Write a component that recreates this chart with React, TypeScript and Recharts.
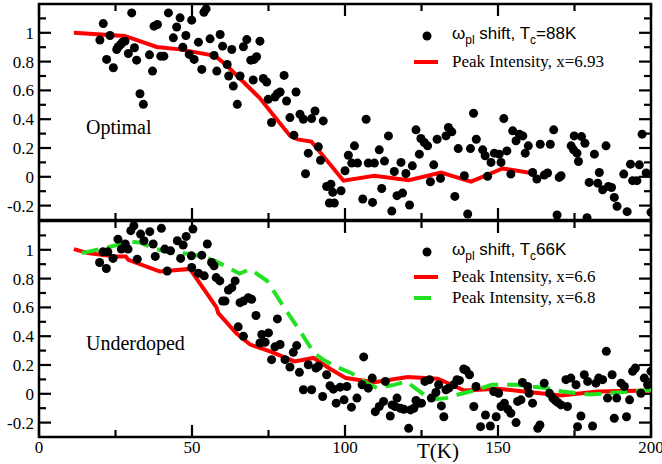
import { ComposedChart, Scatter, Line, XAxis, YAxis, Legend, Customized, ReferenceArea, ReferenceLine } from 'recharts'

const SERIF = '"Liberation Serif", "DejaVu Serif", serif'
const SANS = '"Liberation Sans", Arial, sans-serif'

const xMajor = [0, 50, 100, 150, 200]
const xMinor = [25, 75, 125, 175]
const yMajor = [-0.2, 0, 0.2, 0.4, 0.6, 0.8, 1]
const yMinor = [-0.1, 0.1, 0.3, 0.5, 0.7, 0.9, 1.1]

const optimalShift: [number, number][] = [
  [19.9, 0.95], [21.0, 1.064], [22.1, 0.815], [23.2, 0.981], [24.3, 0.757], [25.4, 0.884], [25.9, 0.903],
  [26.7, 0.919], [27.3, 0.935], [28.1, 0.942], [29.2, 0.856], [30.3, 1.138], [31.2, 0.896], [31.9, 0.81],
  [33.0, 0.577], [34.1, 0.503], [36.1, 0.847], [37.1, 0.734], [37.6, 1.046], [38.7, 1.058], [39.8, 0.838],
  [40.8, 0.838], [42.3, 1.138], [43.9, 0.965], [45.0, 1.04], [46.1, 1.104], [47.0, 0.9], [48.0, 0.981],
  [49.1, 0.85], [49.9, 1.088], [50.7, 0.815], [52.1, 0.935], [53.2, 0.746], [53.9, 1.143], [54.6, 1.166],
  [55.9, 0.958], [57.2, 0.843], [58.1, 0.734], [59.2, 0.988], [60.0, 0.907], [61.5, 0.78], [62.0, 0.7],
  [63.0, 0.884], [63.5, 0.63], [64.8, 0.503], [65.7, 0.7], [66.8, 0.903], [67.9, 0.953], [69.2, 0.81],
  [70.0, 0.672], [70.3, 0.815], [71.1, 0.834], [72.2, 0.942], [73.3, 0.683], [74.4, 0.658], [74.9, 0.538],
  [76.0, 0.377], [77.1, 0.554], [77.9, 0.577], [78.8, 0.589], [80.1, 0.704], [80.9, 0.526], [82.0, 0.411],
  [83.3, 0.289], [84.0, 0.589], [85.3, 0.434], [86.4, 0.4], [87.1, 0.021], [88.0, 0.164], [89.1, 0.404],
  [90.2, 0.457], [91.3, 0.208], [92.0, 0.115], [92.9, 0.388], [94.0, -0.067], [94.9, -0.182],
  [95.4, -0.051], [96.0, -0.108], [96.5, -0.182], [98.7, -0.097], [100.0, 0.042], [101.1, 0.15],
  [102.2, 0.095], [103.1, 0.215], [104.1, 0.095], [105.8, -0.154], [106.9, 0.4], [107.6, 0.095],
  [109.0, -0.178], [109.6, 0.095], [111.2, 0.187], [112.0, -0.081], [112.9, 0.109], [114.2, 0.284],
  [115.3, -0.238], [116.1, 0.037], [117.0, -0.131], [118.3, 0.1], [118.8, -0.113], [119.9, 0.023],
  [121.1, -0.196], [122.0, 0.076], [123.2, 0.326], [124.3, 0.157], [124.8, 0.266], [125.9, 0.238],
  [127.0, 0.215], [127.9, -0.034], [129.0, 0.083], [130.1, 0.261], [131.2, -0.011], [133.0, 0.284],
  [133.8, 0.342], [134.9, 0.312], [135.9, -0.136], [137.0, 0.196], [139.0, 0.007], [140.1, -0.258],
  [141.0, 0.196], [142.0, 0.441], [142.9, 0.261], [145.0, 0.187], [145.8, 0.146], [146.6, 0.003],
  [147.7, 0.1], [148.8, 0.164], [150.4, 0.157], [151.0, 0.1], [151.9, 0.404], [152.9, 0.18],
  [154.2, 0.019], [154.8, 0.319], [155.9, 0.25], [157.0, 0.296], [158.1, 0.284], [158.9, 0.164],
  [159.9, 0.215], [161.3, 0.03], [162.7, -0.016], [163.8, 0.226], [165.1, 0.012], [166.2, 0.026],
  [167.1, 0.226], [168.2, 0.326], [169.3, -0.265], [170.0, -0.004], [170.6, 0.007], [173.9, 0.215],
  [174.7, 0.187], [174.9, 0.284], [175.8, 0.164], [176.3, 0.106], [177.3, 0.279], [178.4, 0.233],
  [179.1, -0.284], [179.8, -0.039], [181.5, 0.157], [182.6, -0.044], [183.1, 0.03], [184.2, -0.09],
  [185.3, 0.215], [186.1, -0.067], [187.1, -0.074], [188.0, -0.143], [188.9, -0.205], [191.1, 0.019],
  [192.2, -0.242], [193.3, 0.088], [194.0, -0.027], [195.4, -0.027], [196.2, 0.083], [197.1, 0.296],
  [198.4, 0.026], [200.0, -0.247],
]

const optimalPeak: [number, number][] = [
  [11.4, 1.0], [28, 0.978], [38.5, 0.902], [46, 0.885], [57.5, 0.84], [61, 0.78], [72, 0.55], [82, 0.285],
  [84.5, 0.26], [89, 0.245], [99.5, -0.027], [109.6, 0.007], [120.8, -0.023], [131.4, 0.03],
  [141.2, -0.034], [151.5, 0.058], [161.3, 0.025],
]

const underShift: [number, number][] = [
  [19.8, 0.912], [20.9, 0.986], [22.0, 0.87], [22.5, 0.986], [24.2, 0.94], [25.8, 1.074], [26.9, 1.005],
  [28.2, 1.04], [29.1, 1.005], [30.0, 1.133], [31.0, 1.167], [32.1, 0.935], [33.2, 1.109], [34.3, 1.063],
  [36.2, 1.126], [37.3, 1.04], [38.0, 0.954], [40.0, 1.149], [41.1, 1.005], [41.9, 0.853], [43.0, 0.993],
  [45.2, 1.063], [46.3, 0.94], [47.1, 1.033], [48.1, 1.093], [49.8, 0.958], [50.3, 1.144],
  [49.9, 0.877], [52.1, 0.837], [53.2, 0.963], [54.0, 0.819], [55.0, 1.04], [56.4, 0.912], [57.2, 0.889],
  [57.9, 0.807], [59.1, 0.784], [60.0, 0.644], [60.8, 0.644], [61.9, 0.721], [63.0, 0.737], [64.1, 0.784],
  [65.1, 0.465], [65.7, 0.633], [66.8, 0.644], [66.8, 0.4], [68.4, 0.667], [69.5, 0.656], [70.9, 0.544],
  [72.2, 0.353], [72.8, 0.412], [73.9, 0.358], [75.0, 0.423], [76.0, 0.237], [77.1, 0.326], [77.9, 0.52],
  [78.8, 0.342], [80.4, 0.237], [82.0, 0.186], [83.1, 0.288], [84.2, 0.335], [85.1, 0.149], [86.4, 0.028],
  [88.0, 0.202], [89.1, 0.028], [90.5, 0.179], [91.3, 0.191], [92.7, -0.019], [94.0, 0.132], [95.1, 0.056],
  [96.2, 0.032], [97.1, -0.065], [98.4, 0.046], [99.7, -0.042],
  [100.6, 0.051], [102.1, -0.093], [103.9, -0.03], [105.6, 0.063], [106.1, 0.256], [107.6, 0.039],
  [108.9, 0.109], [109.9, -0.124], [111.2, -0.088], [112.6, -0.053], [113.2, 0.086], [114.8, -0.154],
  [115.4, -0.077], [116.4, -0.088], [117.0, -0.03], [118.1, -0.1], [119.2, -0.107], [120.8, -0.24],
  [121.4, -0.112], [122.5, -0.1], [123.2, -0.046], [124.1, -0.065], [125.0, -0.065], [126.1, 0.086],
  [127.6, 0.098], [128.2, -0.03], [129.7, 0.009], [130.6, 0.063], [131.5, -0.084], [132.3, -0.159],
  [133.0, 0.028], [133.9, 0.039], [135.5, 0.063], [136.6, 0.098], [137.4, 0.093], [138.8, 0.172],
  [139.6, 0.163], [140.7, 0.132], [142.1, -0.088], [142.8, 0.051], [144.3, -0.228], [145.9, -0.147],
  [147.5, -0.224], [148.6, 0.016], [149.4, -0.159], [150.2, 0.004],
  [151.0, -0.088], [152.1, -0.065], [153.2, -0.107], [154.2, -0.135], [155.9, -0.2], [156.4, -0.053],
  [157.5, -0.042], [158.0, 0.079], [159.7, 0.051], [160.2, 0.004], [161.3, -0.065], [163.0, -0.24],
  [163.7, -0.217], [165.1, 0.074], [166.8, 0.004], [167.9, -0.03], [168.7, -0.046], [169.5, -0.06],
  [170.6, -0.077], [172.2, 0.098], [172.7, -0.088], [173.8, 0.109], [175.5, 0.063], [176.0, -0.228],
  [177.1, -0.154], [178.2, 0.132], [179.3, 0.086], [180.9, -0.224], [182.0, 0.074], [182.9, 0.109],
  [184.2, 0.098], [185.4, 0.295], [185.8, -0.03], [187.3, 0.132], [188.0, -0.17], [188.8, -0.03],
  [190.2, 0.074], [191.3, 0.051], [192.0, -0.159], [193.0, -0.042], [194.0, 0.156], [194.9, 0.179],
  [196.7, 0.004], [197.8, 0.109], [198.9, 0.063], [200.0, 0.156],
]

const underPeak66: [number, number][] = [
  [11.4, 1.005], [16, 0.977], [25, 0.953], [28.4, 0.953], [29.2, 0.93], [39.5, 0.849], [49.3, 0.867],
  [58, 0.6], [58.6, 0.56], [64.5, 0.42], [69, 0.342], [75.5, 0.295], [83.5, 0.225], [89.7, 0.249],
  [95.1, 0.174], [100.3, 0.109], [109.6, 0.081], [120.5, 0.116], [130.3, 0.105], [139, 0.023],
  [149.9, 0.035], [160.8, 0.011], [170.6, -0.012], [182.6, 0.016], [200, 0.023],
]

const underPeak68: [number, number][] = [
  [14, 0.977], [23.6, 1.023], [30, 1.058], [33, 1.05], [38.3, 1.005], [42, 0.986], [48, 0.975],
  [51.5, 0.962], [57.5, 0.923], [65.5, 0.835], [69, 0.865], [74.5, 0.785], [79.5, 0.62], [85, 0.445],
  [90, 0.28], [93, 0.235], [98, 0.18], [102, 0.145], [107, 0.075], [110.5, 0.04], [116, 0.062],
  [120, 0.085], [128, -0.04], [133, -0.03], [137, -0.005], [143, 0.028], [148, 0.063], [156, 0.063],
  [161, 0.05], [166, 0.04], [171, 0.016], [180, -0.005], [190, 0.01], [200, 0.028],
]

const X_DOMAIN: [number, number] = [0, 200]
const Y_DOMAIN: [number, number] = [-0.3, 1.2]
// tick lengths in data units (plot is 612 x 216 px): 12 px major, 7 px minor
const TX = { major: 12 * 200 / 612, minor: 7 * 200 / 612 }
const TY = { major: 12 * 1.5 / 216, minor: 7 * 1.5 / 216 }

const toRows = (pts: [number, number][]) => pts.map(([t, v]) => ({ t, v }))

const fmtY = (v: number) => (Math.abs(v) < 1e-9 ? '0' : String(v))

const LeftLabel = (p: any) => (
  <text x={p.x} y={p.y} dy="0.35em" textAnchor="end" fontFamily={SERIF} fontSize={17} fill="#000">
    {fmtY(p.payload.value)}
  </text>
)

const BottomLabel = (p: any) => (
  <text x={p.x} y={p.y + 16} textAnchor="middle" fontFamily={SERIF} fontSize={17} fill="#000">
    {p.payload.value}
  </text>
)

const Dot = (p: any) => <circle cx={p.cx} cy={p.cy} r={4.5} fill="#000" />

const OmegaLabel = ({ y, tc }: { y: number; tc: string }) => (
  <text x={47} y={y} fontFamily={SANS} fontSize={17} fill="#000">
    ω<tspan dy={5} fontSize={12}>pl</tspan>
    <tspan dy={-5}> shift, T</tspan>
    <tspan dy={5} fontSize={12}>c</tspan>
    <tspan dy={-5}>{tc}</tspan>
  </text>
)

const TopLegend = () => (
  <svg width={250} height={60}>
    <circle cx={22} cy={16} r={4.5} fill="#000" />
    <OmegaLabel y={19} tc="=88K" />
    <line x1={9} x2={33} y1={42} y2={42} stroke="#ff0000" strokeWidth={4} />
    <text x={47} y={47} fontFamily={SERIF} fontSize={17} fill="#000">Peak Intensity, x=6.93</text>
  </svg>
)

const BottomLegend = () => (
  <svg width={250} height={80}>
    <circle cx={22} cy={16} r={4.5} fill="#000" />
    <OmegaLabel y={19} tc="66K" />
    <line x1={9} x2={33} y1={41} y2={41} stroke="#ff0000" strokeWidth={4} />
    <text x={47} y={46} fontFamily={SERIF} fontSize={17} fill="#000">Peak Intensity, x=6.6</text>
    <line x1={9} x2={33} y1={62} y2={62} stroke="#22e022" strokeWidth={4} strokeDasharray="17 9" />
    <text x={47} y={67} fontFamily={SERIF} fontSize={17} fill="#000">Peak Intensity, x=6.8</text>
  </svg>
)

const seg = (key: string, a: { x: number; y: number }, b: { x: number; y: number }) => (
  <ReferenceLine key={key} segment={[a, b]} stroke="#000" strokeWidth={2.2} ifOverflow="visible" />
)

// frame plus inward ticks on all four sides
const frameAndTicks = () => {
  const [x0, x1] = X_DOMAIN
  const [y0, y1] = Y_DOMAIN
  const out = [
    <ReferenceArea key="frame" x1={x0} x2={x1} y1={y0} y2={y1} fill="none" fillOpacity={0}
      stroke="#000" strokeWidth={2.5} ifOverflow="visible" />,
  ]
  const xs = [...xMajor.map((x) => [x, TY.major]), ...xMinor.map((x) => [x, TY.minor])]
  xs.forEach(([x, len], i) => {
    out.push(seg(`b${i}`, { x, y: y0 }, { x, y: y0 + len }))
    out.push(seg(`t${i}`, { x, y: y1 }, { x, y: y1 - len }))
  })
  const ys = [...yMajor.map((y) => [y, TX.major]), ...yMinor.map((y) => [y, TX.minor])]
  ys.forEach(([y, len], i) => {
    out.push(seg(`l${i}`, { x: x0, y }, { x: x0 + len, y }))
    out.push(seg(`r${i}`, { x: x1, y }, { x: x1 - len, y }))
  })
  return out
}

const renderAxes = (xLabels: boolean, xHeight: number) => [
  <XAxis key="x" type="number" dataKey="t" domain={X_DOMAIN} allowDataOverflow ticks={xMajor} interval={0}
    height={xHeight} axisLine={false} tickLine={false} tickSize={0} tickMargin={0}
    tick={xLabels ? BottomLabel : false} />,
  <YAxis key="y" type="number" dataKey="v" domain={Y_DOMAIN} allowDataOverflow ticks={yMajor} interval={0}
    width={39} axisLine={false} tickLine={false} tickSize={0} tickMargin={5} tick={LeftLabel} />,
]

export default function App() {
  return (
    <div style={{ position: 'absolute', left: 0, top: 0, width: 662, height: 464, background: '#fff' }}>
      <div style={{ position: 'absolute', left: 0, top: 0 }}>
        <ComposedChart width={662} height={222} margin={{ top: 4, right: 11, bottom: 2, left: 0 }}>
          {renderAxes(false, 0)}
          {frameAndTicks()}
          <Scatter name="omega_pl shift, Tc=88K" data={toRows(optimalShift)} shape={Dot} isAnimationActive={false} />
          <Line name="Peak Intensity, x=6.93" data={toRows(optimalPeak)} dataKey="v" type="linear"
            stroke="#ff0000" strokeWidth={4} dot={false} isAnimationActive={false} />
          <Customized component={() => (
            <text x={86} y={134} fontFamily={SERIF} fontSize={20} fill="#000">Optimal</text>
          )} />
          <Legend layout="vertical" align="center" verticalAlign="middle"
            wrapperStyle={{ left: 405, top: 20, width: 250, height: 60 }} content={() => <TopLegend />} />
        </ComposedChart>
      </div>
      <div style={{ position: 'absolute', left: 0, top: 220 }}>
        <ComposedChart width={662} height={244} margin={{ top: 1, right: 11, bottom: 0, left: 0 }}>
          {renderAxes(true, 27)}
          {frameAndTicks()}
          <Scatter name="omega_pl shift, Tc 66K" data={toRows(underShift)} shape={Dot} isAnimationActive={false} />
          <Line name="Peak Intensity, x=6.6" data={toRows(underPeak66)} dataKey="v" type="linear"
            stroke="#ff0000" strokeWidth={4} dot={false} isAnimationActive={false} />
          <Line name="Peak Intensity, x=6.8" data={toRows(underPeak68)} dataKey="v" type="linear"
            stroke="#22e022" strokeWidth={4} strokeDasharray="17 9" dot={false} isAnimationActive={false} />
          <Customized component={() => (
            <g>
              <text x={86} y={130} fontFamily={SERIF} fontSize={20} fill="#000">Underdoped</text>
              <text x={438} y={238} textAnchor="middle" fontFamily={SERIF} fontSize={21} fill="#000">T(K)</text>
            </g>
          )} />
          <Legend layout="vertical" align="center" verticalAlign="middle"
            wrapperStyle={{ left: 405, top: 16, width: 250, height: 80 }} content={() => <BottomLegend />} />
        </ComposedChart>
      </div>
    </div>
  )
}
